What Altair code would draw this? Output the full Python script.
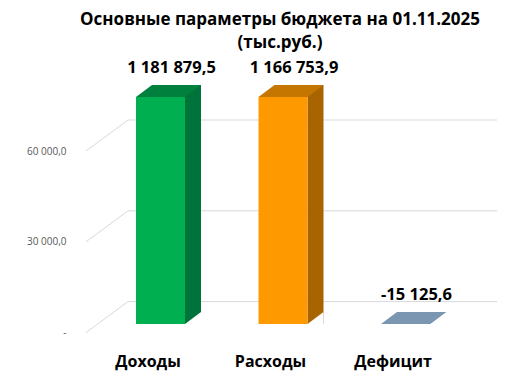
import altair as alt
import pandas as pd

categories = ["Доходы", "Расходы", "Дефицит"]
values = [1181879.5, 1166753.9, -15125.6]
grid_values = [0, 30000, 60000]
front_colors = ["#00B050", "#FF9900", "#7A96B0"]
side_colors = ["#00733A", "#A86400", "#5F7A93"]
top_colors = ["#00803D", "#C47600", "#7A96B0"]
title_lines = ["Основные параметры бюджета на 01.11.2025", "(тыс.руб.)"]

FONT = "Open Sans"
GRID = "#D9D9D9"

df = pd.DataFrame({"cat": categories, "v": values})
gdf = pd.DataFrame({"g": grid_values})

yscale = alt.Scale(domain=[0, 75000], clamp=True, nice=False, zero=False)
yaxis = alt.Axis(
    title=None, values=grid_values, format=",.1f",
    labelExpr="datum.value == 0 ? '-\u00a0\u00a0' : datum.label",
    domain=False, ticks=False, grid=False, labelPadding=20, labelOffset=8.6,
    labelFontSize=10, labelColor="#595959", labelFont=FONT,
)
xaxis = alt.Axis(
    title=None, domain=False, ticks=False, labelFontSize=16, labelFontWeight="bold",
    labelFont=FONT, labelColor="black", labelPadding=29, labelOffset=-13, labelAngle=0,
)
x_enc = alt.X("cat:N", sort=categories,
              scale=alt.Scale(type="point", range=[74.5, 319.5], padding=0), axis=xaxis)
y_enc = alt.Y("v:Q", scale=yscale, axis=yaxis)
y_grid = alt.Y("g:Q", scale=yscale, axis=yaxis)


def col(rng):
    return alt.Color("cat:N", scale=alt.Scale(domain=categories, range=rng), legend=None)


back_rules = alt.Chart(gdf).mark_rule(color=GRID, strokeWidth=1, yOffset=-22.4).encode(
    y=y_grid, x=alt.value(42), x2=alt.value(411)
)
diag = alt.Chart(gdf).mark_rule(color=GRID, strokeWidth=1, yOffset=8.6, y2Offset=-22.4).encode(
    y=y_grid, y2="g:Q", x=alt.value(0), x2=alt.value(42)
)
side = alt.Chart(df).mark_bar(size=16, xOffset=32.5, yOffset=-12, opacity=1).encode(
    x=x_enc, y=y_enc, y2=alt.datum(0), color=col(side_colors)
)
white_tri = alt.Chart(df).mark_point(
    shape="M24.5,0 L40.5,0 L40.5,-12 Z", size=4, filled=True, color="white", opacity=1, strokeWidth=0
).encode(x=x_enc, y=alt.datum(0))
top = alt.Chart(df).mark_point(
    shape="M-24.5,0 L24.5,0 L40.5,-12 L-8.5,-12 Z", size=4, filled=True, opacity=1, strokeWidth=0
).encode(x=x_enc, y=y_enc, color=col(top_colors))
front = alt.Chart(df).mark_bar(size=49, opacity=1).encode(
    x=x_enc, y=y_enc, y2=alt.datum(0), color=col(front_colors)
)
labels = alt.Chart(df).mark_text(
    dx=11, dy=-24, baseline="alphabetic", fontSize=16.5, fontWeight="bold", font=FONT, color="black"
).encode(x=x_enc, y=y_enc, text=alt.Text("v:Q", format=",.1f"))

chart = alt.layer(back_rules, diag, side, white_tri, top, front, labels).resolve_scale(
    color="independent"
).properties(
    width=411, height=227,
    background="white",
    autosize=alt.AutoSizeParams(type="none"),
    padding={"left": 86, "top": 97, "right": 21, "bottom": 52},
    title=alt.TitleParams(
        text=title_lines, font=FONT, fontSize=17, fontWeight="bold", color="black",
        anchor="middle", frame="group", dx=-11.5, offset=8, lineHeight=23,
    ),
).configure_view(stroke=None)

chart.save(
    "out.html",
    embed_options={
        "renderer": "svg", "actions": False,
        "formatLocale": {"decimal": ",", "thousands": " ", "grouping": [3],
                         "currency": ["", ""], "minus": "-"},
    },
)
